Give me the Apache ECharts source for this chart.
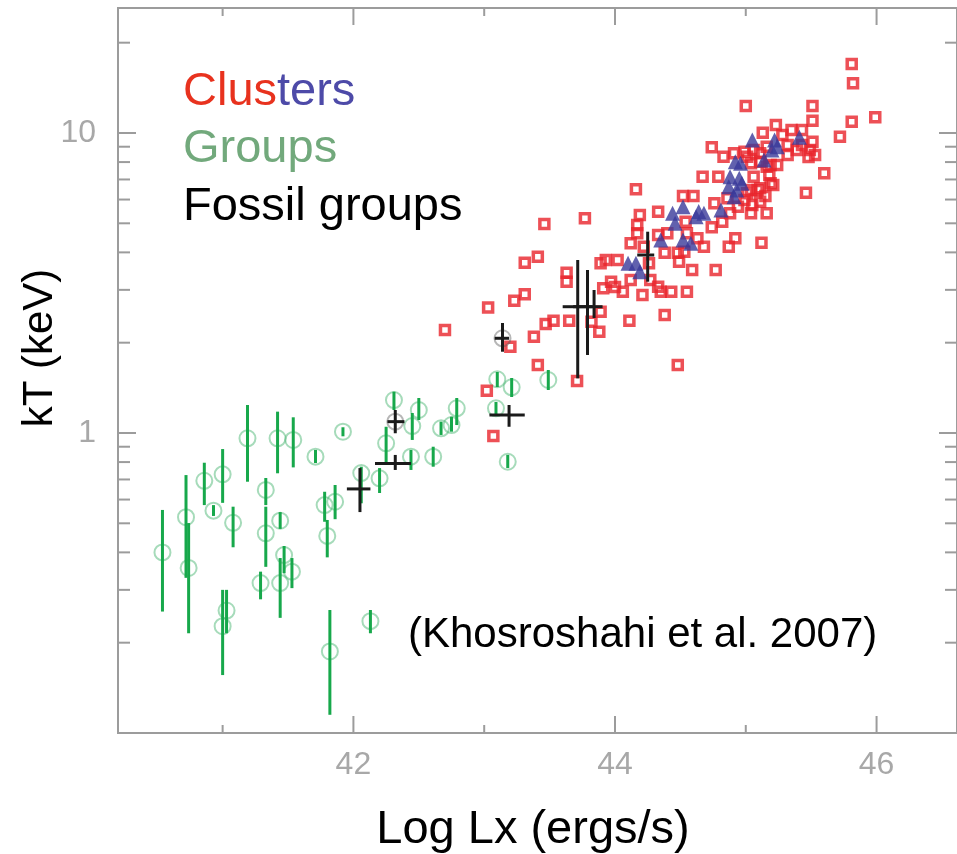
<!DOCTYPE html>
<html>
<head>
<meta charset="utf-8">
<script src="https://cdn.jsdelivr.net/npm/echarts@6/dist/echarts.min.js"></script>
<style>
  html, body { margin: 0; padding: 0; background: #fff; }
  #chart { width: 957px; height: 854px; }
</style>
</head>
<body>
<div id="chart"></div>
<script>
// ---- Groups (green): log Lx, kT and kT error range ----
var groupLx   = [40.54, 40.72, 40.74, 40.86, 41.00, 40.93, 41.08, 41.19, 41.42, 41.54, 41.71, 41.33, 41.33, 41.44,
                 41.47, 41.53, 41.44, 41.29, 41.03, 41.00, 41.82, 42.13, 41.78, 41.86, 41.80, 42.06, 42.20, 42.25,
                 42.31, 41.92, 42.50, 42.45, 42.44, 42.61, 42.67, 42.75, 42.79, 43.10, 43.21, 43.09, 43.18, 43.49];
var groupKT   = [0.400, 0.524, 0.355, 0.693, 0.728, 0.551, 0.502, 0.960, 0.960, 0.948, 0.834, 0.646, 0.463, 0.510,
                 0.392, 0.345, 0.316, 0.316, 0.256, 0.227, 0.187, 0.236, 0.575, 0.590, 0.454, 0.735, 0.706, 0.924,
                 1.288, 1.010, 1.193, 1.055, 0.834, 0.834, 1.037, 1.063, 1.209, 1.510, 1.420, 1.209, 0.802, 1.502];
var groupKTlo = [0.254, 0.329, 0.215, 0.575, 0.585, 0.529, 0.416, 0.688, 0.734, 0.768, 0.794, 0.575, 0.358, 0.479,
                 0.341, 0.304, 0.242, 0.279, 0.215, 0.156, 0.115, 0.215, 0.506, 0.516, 0.385, 0.583, 0.631, 0.792,
                 1.193, 0.975, 1.105, 0.948, 0.753, 0.772, 0.985, 1.010, 1.063, 1.423, 1.318, 1.148, 0.764, 1.391];
var groupKThi = [0.554, 0.724, 0.501, 0.796, 0.884, 0.575, 0.568, 1.240, 1.178, 1.128, 0.878, 0.708, 0.568, 0.545,
                 0.420, 0.383, 0.383, 0.345, 0.300, 0.300, 0.257, 0.257, 0.637, 0.671, 0.513, 0.772, 0.764, 1.049,
                 1.373, 1.045, 1.308, 1.166, 0.878, 0.900, 1.091, 1.133, 1.308, 1.597, 1.525, 1.269, 0.845, 1.622];

// ---- Fossil groups (black crosses) ----
var fossilLx   = [42.05, 42.32, 42.32, 43.14, 43.19, 43.715, 43.79, 43.84, 44.25];
var fossilLxLo = [41.95, 42.165, 42.26, 43.08, 43.04, 43.60, 43.68, 43.84, 44.17];
var fossilLxHi = [42.13, 42.44, 42.39, 43.19, 43.31, 43.83, 43.905, 43.84, 44.30];
var fossilKT   = [0.651, 0.792, 1.091, 2.069, 1.148, 2.636, 2.636, 2.636, 3.92];
var fossilKTlo = [0.545, 0.753, 0.998, 1.866, 1.049, 1.521, 1.820, 2.417, 3.194];
var fossilKThi = [0.764, 0.845, 1.193, 2.326, 1.240, 3.773, 3.494, 2.997, 4.688];
// two fossil groups drawn with a grey ring behind the cross
var fossilRingLx = [42.32, 43.14];
var fossilRingKT = [1.091, 2.069];

// ---- Clusters (red squares) ----
var clusterLx = [42.70, 43.02, 43.07, 43.03, 43.20, 43.23, 43.31, 43.31, 43.41, 43.46, 43.77, 43.63, 43.63, 43.38,
                 43.47, 43.53, 43.65, 43.41, 43.71, 43.82, 43.88, 43.89, 44.11, 44.38, 44.48, 43.91, 43.97, 44.06,
                 44.00, 44.21, 44.35, 44.43, 44.55, 43.89, 43.93, 44.02, 44.12, 44.17, 44.17, 44.19, 44.16, 44.27,
                 44.33, 44.33, 44.52, 44.60, 44.67, 44.79, 44.74, 45.00, 44.74, 44.82, 44.68, 44.87, 44.92, 45.12,
                 44.59, 44.77, 44.38, 44.48, 44.49, 44.12, 44.22, 44.33, 44.40, 44.54, 44.55, 44.53, 44.26, 45.81,
                 45.82, 45.51, 45.81, 45.99, 45.72, 45.51, 45.23, 45.35, 45.43, 45.13, 45.60, 45.46, 45.21, 45.49,
                 45.51, 45.39, 45.28, 45.06, 45.01, 45.11, 45.16, 45.09, 45.11, 44.83, 44.91, 44.99, 45.04, 45.11,
                 45.19, 45.06, 45.11, 45.04, 44.99, 44.94, 45.04, 45.16, 44.88, 44.86, 44.76, 44.63, 45.43, 45.48,
                 45.32, 45.24, 45.19, 45.01, 45.16, 45.32, 45.53, 45.18, 45.05, 45.15];
var clusterKT = [2.204, 1.384, 0.977, 2.620, 1.940, 2.761, 2.900, 3.696, 3.870, 4.975, 5.197, 3.422, 3.194, 2.094,
                 2.308, 2.368, 2.368, 1.685, 1.490, 2.350, 2.177, 2.537, 2.368, 2.474, 1.685, 3.036, 3.194, 2.958,
                 3.066, 2.884, 2.958, 2.958, 2.958, 3.679, 3.773, 3.773, 4.289, 4.631, 4.934, 5.331, 6.492, 3.236,
                 3.074, 5.467, 6.166, 6.166, 7.152, 7.152, 8.962, 12.30, 4.850, 5.063, 4.178, 4.178, 4.457, 4.309,
                 3.494, 3.494, 3.990, 3.990, 3.724, 3.236, 4.178, 4.571, 4.631, 5.063, 4.631, 4.020, 3.679, 16.98,
                 14.64, 12.30, 10.91, 11.28, 9.72, 10.99, 10.63, 10.23, 10.23, 10.02, 7.34, 6.32, 6.71, 8.78,
                 9.35, 8.78, 9.85, 8.78, 8.34, 8.56, 9.00, 6.46, 5.90, 8.34, 8.56, 8.66, 7.93, 8.02,
                 7.82, 7.15, 6.54, 6.46, 5.98, 5.68, 5.40, 5.40, 5.40, 6.06, 5.83, 4.457, 9.12, 8.32,
                 8.45, 7.82, 6.80, 6.30, 7.72, 9.12, 8.45, 7.24, 5.75, 6.17];

// ---- Clusters (blue triangles) ----
var clusterBlueLx = [45.05, 45.20, 44.92, 45.14, 44.88, 44.95, 44.87, 44.93, 44.91, 44.81, 44.68, 44.62, 44.52,
                     44.44, 44.46, 44.35, 44.52, 44.58, 44.16, 44.10, 44.19, 45.22, 45.41, 44.96, 44.97, 44.64, 45.24];
var clusterBlueKT = [9.48, 8.78, 8.02, 8.13, 7.15, 7.06, 6.62, 6.46, 6.13, 5.54, 5.40, 5.26, 5.68,
                     5.40, 5.00, 4.40, 4.40, 4.29, 3.68, 3.68, 3.45, 9.48, 9.68, 7.93, 6.80, 5.47, 9.00];

// ---- axis ticks ----
var xMajorTicks = [42, 44, 46];
var xMinorTicks = [41, 43, 45];
var yMajorTicks = [1, 10];
var yMinorTicks = [0.2, 0.3, 0.4, 0.5, 0.6, 0.7, 0.8, 0.9, 2, 3, 4, 5, 6, 7, 8, 9, 20];

var X_MIN = 40.2, X_MAX = 46.615, Y_MIN = 0.1, Y_MAX = 26.1;
var FONT = '"Liberation Sans", Arial, sans-serif';
var TICK_COLOR = '#9c9c9c';

var chart = echarts.init(document.getElementById('chart'));

// 坐标轴刻度（上下、左右两侧，朝内）
function xTickSeries(values, len) {
  return {
    type: 'custom',
    silent: true,
    z: 1,
    data: values.map(function (v) { return [v, 1]; }),
    renderItem: function (params, api) {
      var v = api.value(0);
      var b = api.coord([v, Y_MIN]);
      var t = api.coord([v, Y_MAX]);
      var st = { stroke: TICK_COLOR, lineWidth: 2 };
      return {
        type: 'group',
        children: [
          { type: 'line', shape: { x1: b[0], y1: b[1], x2: b[0], y2: b[1] - len }, style: st },
          { type: 'line', shape: { x1: t[0], y1: t[1], x2: t[0], y2: t[1] + len }, style: st }
        ]
      };
    }
  };
}

function yTickSeries(values, len) {
  return {
    type: 'custom',
    silent: true,
    z: 1,
    data: values.map(function (v) { return [X_MIN, v]; }),
    renderItem: function (params, api) {
      var v = api.value(1);
      var l = api.coord([X_MIN, v]);
      var r = api.coord([X_MAX, v]);
      var st = { stroke: TICK_COLOR, lineWidth: 2 };
      return {
        type: 'group',
        children: [
          { type: 'line', shape: { x1: l[0], y1: l[1], x2: l[0] + len, y2: l[1] }, style: st },
          { type: 'line', shape: { x1: r[0], y1: r[1], x2: r[0] - len, y2: r[1] }, style: st }
        ]
      };
    }
  };
}

var option = {
  animation: false,
  backgroundColor: '#fff',
  grid: {
    left: 118, top: 8, width: 842, height: 725,
    show: true, borderColor: '#9c9c9c', borderWidth: 2, backgroundColor: 'transparent'
  },
  xAxis: {
    type: 'value',
    min: X_MIN, max: X_MAX,
    axisLine: { show: false },
    axisTick: { show: false },
    splitLine: { show: false },
    axisLabel: {
      customValues: xMajorTicks,
      color: '#a8a8a8', fontSize: 32, fontFamily: FONT, margin: 16
    }
  },
  yAxis: {
    type: 'log',
    logBase: 10,
    min: Y_MIN, max: Y_MAX,
    axisLine: { show: false },
    axisTick: { show: false },
    splitLine: { show: false },
    axisLabel: {
      color: '#a8a8a8', fontSize: 32, fontFamily: FONT, margin: 22,
      formatter: function (v) {
        for (var i = 0; i < yMajorTicks.length; i++) {
          if (Math.abs(v - yMajorTicks[i]) < 1e-6 * yMajorTicks[i]) return String(yMajorTicks[i]);
        }
        return '';
      }
    }
  },
  series: [
    xTickSeries(xMajorTicks, 17),
    xTickSeries(xMinorTicks, 8),
    yTickSeries(yMajorTicks, 18),
    yTickSeries(yMinorTicks, 12),
    {
      name: 'Groups',
      type: 'scatter',
      silent: true,
      z: 2,
      symbol: 'circle',
      symbolSize: 16,
      itemStyle: { color: 'rgba(0,0,0,0)', borderColor: 'rgba(70,180,110,0.6)', borderWidth: 2 },
      data: groupLx.map(function (x, i) { return [x, groupKT[i]]; })
    },
    {
      name: 'Groups error',
      type: 'custom',
      silent: true,
      z: 3,
      data: groupLx.map(function (x, i) { return [x, groupKT[i], groupKTlo[i], groupKThi[i]]; }),
      renderItem: function (params, api) {
        var p1 = api.coord([api.value(0), api.value(2)]);
        var p2 = api.coord([api.value(0), api.value(3)]);
        return {
          type: 'line',
          shape: { x1: p1[0], y1: p1[1], x2: p2[0], y2: p2[1] },
          style: { stroke: '#17a84b', lineWidth: 3 }
        };
      }
    },
    {
      name: 'Clusters',
      type: 'scatter',
      silent: true,
      z: 4,
      symbol: 'rect',
      symbolSize: 9,
      itemStyle: { color: 'rgba(0,0,0,0)', borderColor: '#e8242c', borderWidth: 3.5 },
      data: clusterLx.map(function (x, i) { return [x, clusterKT[i]]; })
    },
    {
      name: 'Clusters blue',
      type: 'scatter',
      silent: true,
      z: 5,
      symbol: 'triangle',
      symbolSize: 15,
      itemStyle: { color: '#3a3a9a' },
      data: clusterBlueLx.map(function (x, i) { return [x, clusterBlueKT[i]]; })
    },
    {
      name: 'Fossil ring',
      type: 'scatter',
      silent: true,
      z: 5,
      symbol: 'circle',
      symbolSize: 16,
      itemStyle: { color: 'rgba(0,0,0,0)', borderColor: 'rgba(90,90,90,0.55)', borderWidth: 2 },
      data: fossilRingLx.map(function (x, i) { return [x, fossilRingKT[i]]; })
    },
    {
      name: 'Fossil groups',
      type: 'custom',
      silent: true,
      z: 6,
      data: fossilLx.map(function (x, i) {
        return [x, fossilKT[i], fossilLxLo[i], fossilLxHi[i], fossilKTlo[i], fossilKThi[i]];
      }),
      renderItem: function (params, api) {
        var x = api.value(0), y = api.value(1);
        var h1 = api.coord([api.value(2), y]);
        var h2 = api.coord([api.value(3), y]);
        var v1 = api.coord([x, api.value(4)]);
        var v2 = api.coord([x, api.value(5)]);
        var st = { stroke: '#1a1a1a', lineWidth: 3 };
        return {
          type: 'group',
          children: [
            { type: 'line', shape: { x1: h1[0], y1: h1[1], x2: h2[0], y2: h2[1] }, style: st },
            { type: 'line', shape: { x1: v1[0], y1: v1[1], x2: v2[0], y2: v2[1] }, style: st }
          ]
        };
      }
    }
  ],
  graphic: [
    {
      type: 'text', x: 40, y: 348, rotation: Math.PI / 2,
      style: { text: 'kT (keV)', font: '42px ' + FONT, fill: '#000',
               align: 'center', verticalAlign: 'middle', textAlign: 'center', textVerticalAlign: 'middle' }
    },
    {
      type: 'text', x: 533, y: 830,
      style: { text: 'Log Lx (ergs/s)', font: '47px ' + FONT, fill: '#000',
               align: 'center', verticalAlign: 'middle', textAlign: 'center', textVerticalAlign: 'middle' }
    },
    {
      type: 'text', x: 183, y: 92,
      style: {
        text: '{r|Clus}{b|ters}',
        verticalAlign: 'middle', textVerticalAlign: 'middle',
        rich: {
          r: { fontSize: 47, fontFamily: FONT, fill: '#e8321e', color: '#e8321e' },
          b: { fontSize: 47, fontFamily: FONT, fill: '#4d4aa8', color: '#4d4aa8' }
        }
      }
    },
    {
      type: 'text', x: 183, y: 149,
      style: { text: 'Groups', font: '47px ' + FONT, fill: '#72a97c',
               verticalAlign: 'middle', textVerticalAlign: 'middle' }
    },
    {
      type: 'text', x: 183, y: 207,
      style: { text: 'Fossil groups', font: '47px ' + FONT, fill: '#000',
               verticalAlign: 'middle', textVerticalAlign: 'middle' }
    },
    {
      type: 'text', x: 408, y: 635,
      style: { text: '(Khosroshahi et al. 2007)', font: '42px ' + FONT, fill: '#000',
               verticalAlign: 'middle', textVerticalAlign: 'middle' }
    }
  ]
};

chart.setOption(option);
</script>
</body>
</html>
